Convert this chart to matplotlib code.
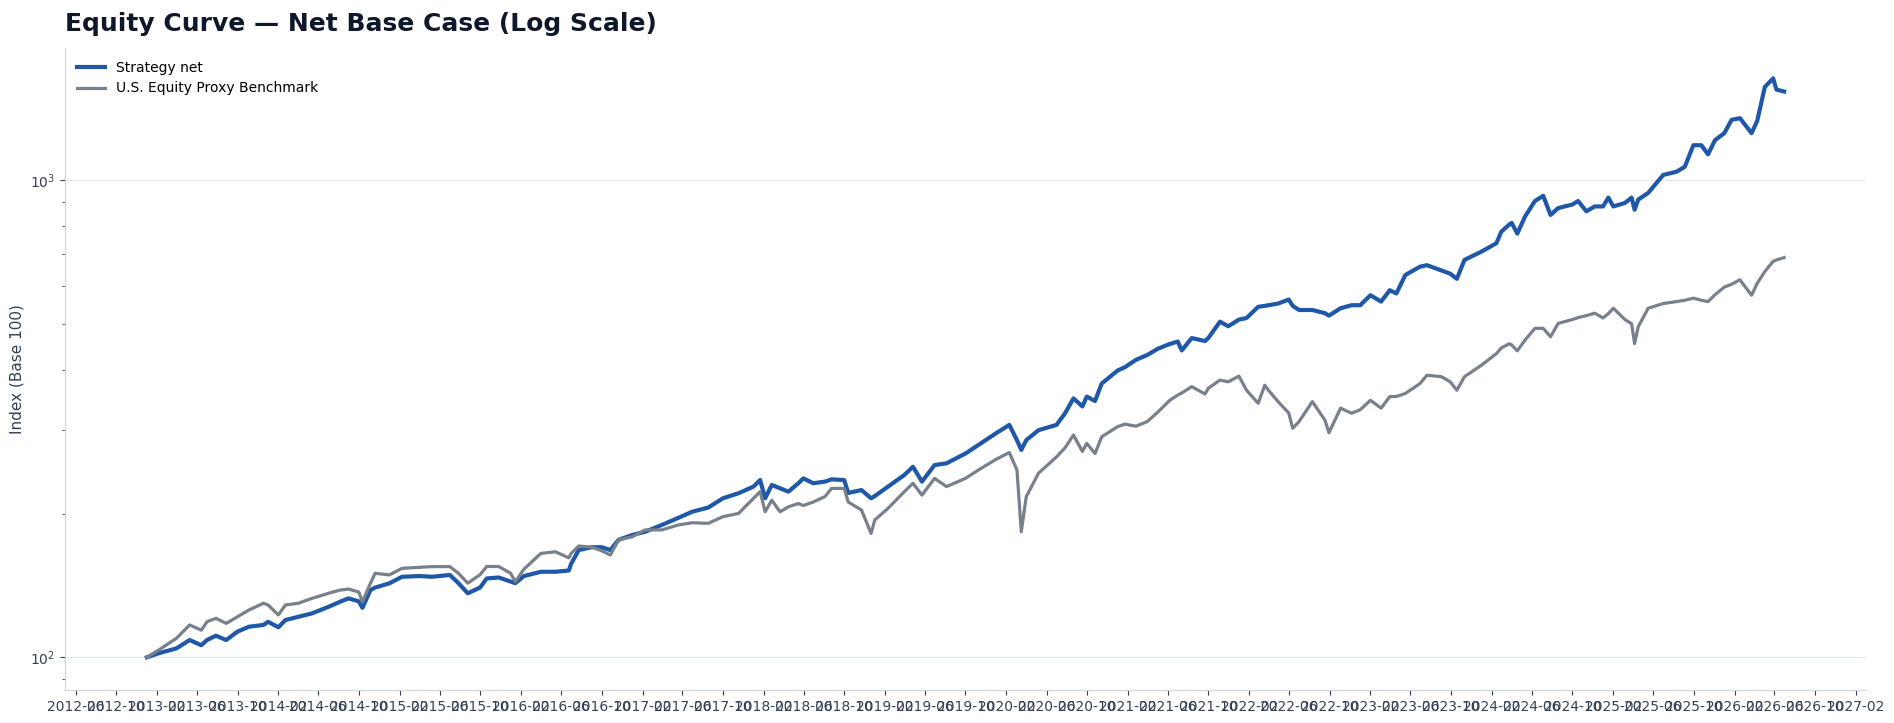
import matplotlib
matplotlib.use("Agg")
import matplotlib.pyplot as plt
import matplotlib.dates as mdates
import pandas as pd

# values (index, base 100)
dates = [
    "2013-01-01", "2013-02-06", "2013-03-31", "2013-05-10", "2013-06-14", "2013-07-01",
    "2013-07-28", "2013-08-28", "2013-10-01", "2013-11-04", "2013-12-18", "2014-01-01",
    "2014-02-01", "2014-02-22", "2014-04-02", "2014-05-13", "2014-07-02", "2014-08-05",
    "2014-08-31", "2014-10-01", "2014-10-12", "2014-11-05", "2014-11-19", "2015-01-01",
    "2015-02-08", "2015-04-02", "2015-05-09", "2015-07-02", "2015-07-28", "2015-08-25",
    "2015-10-01", "2015-10-21", "2015-11-26", "2016-01-01", "2016-01-15", "2016-02-10",
    "2016-04-01", "2016-05-15", "2016-06-24", "2016-07-01", "2016-07-24", "2016-09-02",
    "2016-10-01", "2016-10-27", "2016-11-21", "2017-01-01", "2017-02-09", "2017-03-31",
    "2017-05-20", "2017-06-30", "2017-08-18", "2017-10-01", "2017-11-17", "2018-01-01",
    "2018-01-21", "2018-02-05", "2018-02-25", "2018-03-22", "2018-04-16", "2018-05-16",
    "2018-05-31", "2018-06-30", "2018-08-04", "2018-08-24", "2018-10-01", "2018-10-13",
    "2018-11-22", "2018-12-21", "2019-01-01", "2019-02-10", "2019-03-31", "2019-04-26",
    "2019-05-23", "2019-06-30", "2019-08-05", "2019-10-01", "2019-11-09", "2020-01-01",
    "2020-02-10", "2020-03-04", "2020-03-17", "2020-04-01", "2020-05-08", "2020-07-01",
    "2020-07-27", "2020-08-21", "2020-09-17", "2020-09-30", "2020-10-25", "2020-11-14",
    "2021-01-01", "2021-01-23", "2021-02-25", "2021-03-31", "2021-05-03", "2021-06-07",
    "2021-07-01", "2021-07-13", "2021-08-12", "2021-09-21", "2021-10-01", "2021-11-05",
    "2021-11-30", "2022-01-01", "2022-01-24", "2022-02-28", "2022-03-20", "2022-03-31",
    "2022-04-29", "2022-05-31", "2022-06-12", "2022-07-01", "2022-08-10", "2022-09-17",
    "2022-09-29", "2022-11-03", "2022-12-06", "2023-01-01", "2023-02-01", "2023-03-05",
    "2023-03-31", "2023-04-20", "2023-05-17", "2023-06-30", "2023-07-21", "2023-09-02",
    "2023-09-29", "2023-10-19", "2023-11-11", "2024-01-01", "2024-02-15", "2024-03-01",
    "2024-03-25", "2024-04-01", "2024-04-18", "2024-05-11", "2024-06-10", "2024-07-05",
    "2024-07-27", "2024-08-19", "2024-09-30", "2024-10-18", "2024-11-12", "2024-12-07",
    "2025-01-01", "2025-01-17", "2025-02-01", "2025-03-08", "2025-03-28", "2025-04-06",
    "2025-04-17", "2025-05-17", "2025-07-01", "2025-08-10", "2025-09-04", "2025-09-30",
    "2025-10-24", "2025-11-13", "2025-12-04", "2026-01-01", "2026-01-23", "2026-02-17",
    "2026-03-24", "2026-04-10", "2026-05-03", "2026-05-28", "2026-06-07", "2026-06-30",
]

strategy = [
    100, 102, 104.4, 108.7, 106, 108.7,
    111, 108.7, 113.2, 115.9, 116.9, 118.7,
    115.6, 119.7, 121.6, 123.6, 127.6, 130.7,
    132.9, 131, 127, 138.3, 140, 142.9,
    147.5, 148, 147.5, 148.8, 143, 136.2,
    140, 146.3, 147, 144.1, 143, 148,
    151.1, 151.1, 152, 157, 167.8, 170.1,
    170.1, 167.8, 176.3, 180.4, 183.3, 189.4,
    196, 201.8, 206, 215.4, 220.7, 227.9,
    235.2, 215.4, 229.7, 226, 222.4, 231.6,
    237.1, 231.6, 233.4, 236, 235.2, 221,
    224.1, 215.4, 217.7, 227.9, 241, 250.8,
    233.4, 252.8, 255, 267.3, 278.6, 294.8,
    306.9, 285, 272.1, 285.2, 299.2, 306.9,
    324.8, 348.8, 335.5, 351.8, 344.4, 374.6,
    399, 405.5, 420, 430, 443.5, 453.5,
    458.8, 439.6, 466.6, 460, 466.6, 505,
    494, 510.1, 514, 542.5, 545, 546.7,
    551.2, 561.8, 545, 534.3, 534.3, 526.1,
    519.9, 538.8, 546.7, 546.7, 573.7, 556.3,
    587.7, 578.7, 632.6, 658.3, 663.2, 646.8,
    636.6, 621, 680.3, 708, 737.3, 780,
    807, 813.3, 772.3, 838.3, 903.8, 926.9,
    845, 873.6, 888.3, 903.8, 859.9, 880.5,
    880.5, 919, 880.5, 895.5, 919, 866.7,
    910, 940, 1025, 1041, 1066, 1183,
    1183, 1132, 1212, 1254, 1337, 1348,
    1254, 1330, 1567, 1633, 1547, 1533,
]

benchmark = [
    100, 103.6, 109.6, 116.9, 114, 118.7,
    120.7, 117.8, 121.6, 125.6, 129.8, 128.7,
    122.7, 128.7, 129.8, 132.9, 136.2, 138.3,
    139, 137, 130.7, 142.9, 150, 148.8,
    153.6, 154.4, 154.9, 154.9, 150, 143,
    149, 155, 155, 150, 144, 153,
    165.1, 166.4, 161.6, 165, 171.1, 170.1,
    167.2, 163.8, 176.3, 178.9, 184.9, 184.9,
    189.4, 191.4, 190.9, 197.1, 200.2, 215.4,
    222.4, 201.8, 213.4, 201.8, 206.7, 210,
    208, 211.6, 217.1, 225.9, 225.9, 211.6,
    203.5, 181.8, 194, 205.2, 222.4, 231.6,
    218.7, 237.1, 227.9, 237.1, 246.9, 259.9,
    268.6, 246.9, 183.3, 217.1, 243.2, 263,
    275, 292.3, 270, 280.8, 267.3, 289.8,
    304.3, 308, 305, 311.8, 327, 345.6,
    354.4, 358, 369.1, 356.2, 366.3, 380.9,
    377.9, 388.4, 362.7, 340.7, 371.6, 362.7,
    343.4, 325, 302, 311.8, 343.4, 314.1,
    295.4, 332.7, 324.7, 330.1, 345.6, 332.7,
    351.7, 352, 357.1, 374.6, 390, 387.3,
    377.9, 362.7, 387.3, 409.3, 432.8, 445,
    454, 451.3, 438.8, 461.9, 489, 489,
    469.6, 500.8, 510.1, 515, 520, 526.1,
    514.1, 525, 538.8, 510.1, 500, 454.4,
    493, 538.8, 551.2, 556.3, 560, 565.6,
    560, 556.3, 575, 596.6, 605, 618.2,
    573.7, 607.4, 643.1, 675.5, 680, 688,
]

series_labels = ["Strategy net", "U.S. Equity Proxy Benchmark"]


def main():
    x = pd.to_datetime(dates)

    fig, ax = plt.subplots(figsize=(18.94, 7.23), dpi=100)
    fig.subplots_adjust(left=0.0343, right=0.9852, top=0.9336, bottom=0.0456)

    ax.plot(x, strategy, color="#1f58a8", lw=3.0, label=series_labels[0],
            solid_joinstyle="round")
    ax.plot(x, benchmark, color="#78808c", lw=2.3, label=series_labels[1],
            solid_joinstyle="round")

    ax.set_yscale("log")
    ax.set_ylim(85.4, 1891)

    # x ticks every 4 months, labelled year-month
    ticks = pd.date_range("2012-06-01", "2027-02-01", freq="4MS")
    ax.set_xticks(ticks)
    ax.xaxis.set_major_formatter(mdates.DateFormatter("%Y-%m"))

    ax.set_title("Equity Curve \u2014 Net Base Case (Log Scale)", loc="left",
                 fontsize=18, fontweight="bold", color="#0f172a", pad=12)
    ax.set_ylabel("Index (Base 100)", fontsize=11, color="#334155")

    ax.yaxis.grid(True, which="major", color="#e2e8f0", lw=0.8)
    ax.set_axisbelow(True)
    for side in ["top", "right"]:
        ax.spines[side].set_visible(False)
    for side in ["left", "bottom"]:
        ax.spines[side].set_color("#cbd5e1")
    ax.tick_params(axis="both", which="both", labelsize=10,
                   colors="#334155", labelcolor="#334155")

    ax.legend(loc="upper left", frameon=False, fontsize=10)

    fig.savefig("out.png", dpi=100)


if __name__ == "__main__":
    main()
